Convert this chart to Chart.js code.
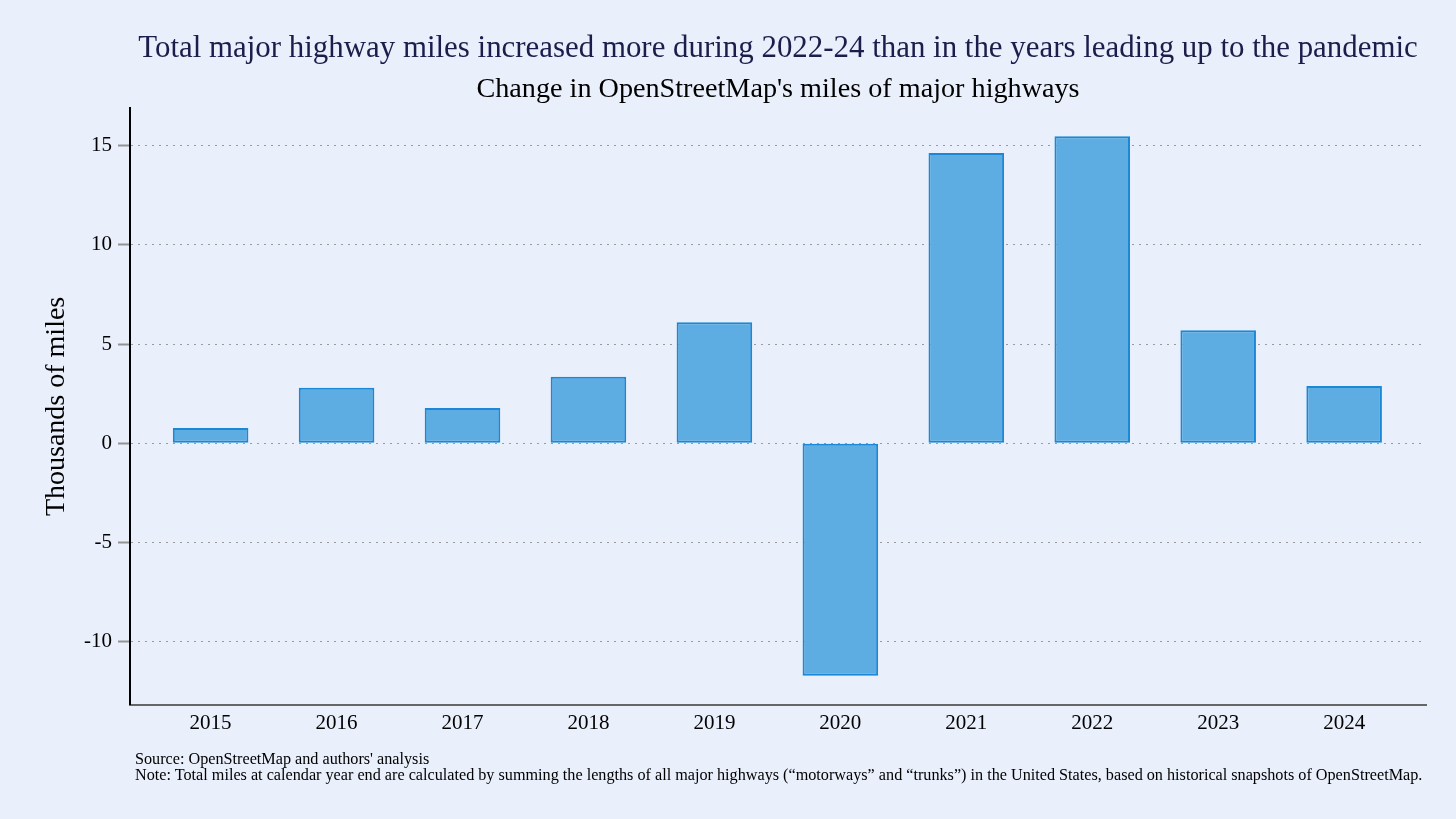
<!DOCTYPE html>
<html>
<head>
<meta charset="utf-8">
<script src="https://cdn.jsdelivr.net/npm/chart.js@4.4.1/dist/chart.umd.min.js"></script>
<style>
  html, body { margin:0; padding:0; background:#e9effb; }
  #wrap { position:relative; width:1456px; height:819px; overflow:hidden; background:#e9effb; }
  canvas { position:absolute; left:0; top:0; }
  .t { position:absolute; font-family:"Liberation Serif","DejaVu Serif",serif; white-space:nowrap; line-height:1; }
  #title { left:130px; width:1296px; text-align:center; top:32px; font-size:30.9px; color:#1b1d4b; }
  #subtitle { left:130px; width:1296px; text-align:center; top:74px; font-size:28.2px; color:#000; }
  #source { left:135px; top:751px; font-size:16.2px; color:#000; }
  #note { left:135px; top:767px; font-size:16.2px; color:#000; }
</style>
</head>
<body>
<div id="wrap">
  <canvas id="c" width="1456" height="819"></canvas>
  <div class="t" id="title">Total major highway miles increased more during 2022-24 than in the years leading up to the pandemic</div>
  <div class="t" id="subtitle">Change in OpenStreetMap's miles of major highways</div>
  <div class="t" id="source">Source: OpenStreetMap and authors' analysis</div>
  <div class="t" id="note">Note: Total miles at calendar year end are calculated by summing the lengths of all major highways (“motorways” and “trunks”) in the United States, based on historical snapshots of OpenStreetMap.</div>
</div>
<script>
const years = [2015, 2016, 2017, 2018, 2019, 2020, 2021, 2022, 2023, 2024];
const changeThousandMiles = [0.76, 2.8, 1.78, 3.35, 6.1, -11.73, 14.63, 15.47, 5.7, 2.88];
const yTicks = [-10, -5, 0, 5, 10, 15];
const yAxisTitle = "Thousands of miles";

const serif = '"Liberation Serif", "DejaVu Serif", serif';

new Chart(document.getElementById('c'), {
  type: 'bar',
  data: {
    datasets: [{
      data: years.map((y, i) => ({ x: y, y: changeThousandMiles[i] })),
      backgroundColor: '#5dade2',
      borderColor: '#1a88d6',
      borderWidth: 2,
      borderSkipped: false,
      categoryPercentage: 1.0,
      barPercentage: 0.6
    }]
  },
  options: {
    responsive: false,
    animation: false,
    devicePixelRatio: 1,
    layout: { padding: { left: 36, right: 30, top: 108, bottom: 77 } },
    plugins: { legend: { display: false }, title: { display: false }, tooltip: { enabled: false } },
    scales: {
      x: {
        type: 'linear',
        offset: false,
        min: 2014.36,
        max: 2024.65,
        afterBuildTicks: axis => { axis.ticks = years.map(v => ({ value: v })); },
        grid: { display: false, drawTicks: false, offset: false },
        border: { display: true, color: '#666666', width: 2 },
        ticks: {
          padding: 6,
          color: '#000',
          font: { family: serif, size: 21 },
          callback: v => String(v),
          maxRotation: 0,
          autoSkip: false
        }
      },
      y: {
        min: -13.19,
        max: 16.9,
        afterBuildTicks: axis => { axis.ticks = yTicks.map(v => ({ value: v })); },
        afterFit: s => { s.width = 94; },
        grid: {
          color: '#9a9a9a',
          lineWidth: 1,
          borderDash: [2, 5],
          tickBorderDash: [],
          tickColor: '#939393',
          tickLength: 12,
          tickWidth: 2,
          drawTicks: true
        },
        border: { display: true, color: '#000', width: 2, dash: [2, 5] },
        ticks: {
          padding: 6,
          color: '#000',
          font: { family: serif, size: 21 },
          callback: v => String(v)
        },
        title: {
          display: true,
          text: yAxisTitle,
          color: '#000',
          font: { family: serif, size: 28 },
          padding: { top: 4, bottom: 0 }
        }
      }
    }
  }
});
</script>
</body>
</html>
